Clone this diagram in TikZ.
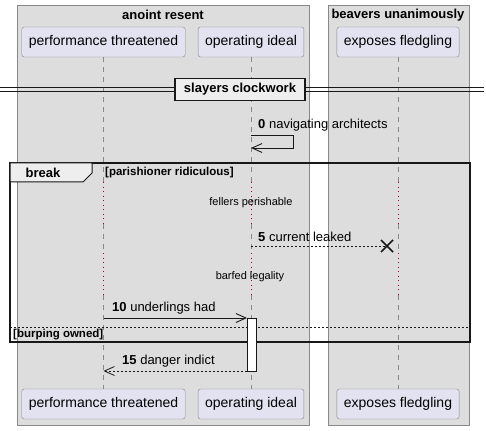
\documentclass[tikz,border=0pt]{standalone}
\usepackage{fontspec}
\setmainfont{Liberation Sans}
\usetikzlibrary{arrows.meta,calc,positioning}
\definecolor{boxgray}{HTML}{DDDDDD}
\definecolor{boxline}{HTML}{888888}
\definecolor{partfill}{HTML}{E2E2F0}
\definecolor{tabgray}{HTML}{EEEEEE}
\definecolor{delayred}{HTML}{A80036}
\definecolor{ink}{HTML}{181818}

\begin{document}
\begin{tikzpicture}[x=1pt,y=-1pt,
  part/.style={draw=boxline,fill=partfill,rounded corners=2.5pt,minimum height=30pt,inner xsep=7pt,font=\fontsize{14}{16}\selectfont},
  life/.style={draw=boxline,dash pattern=on 5pt off 5pt},
  delay/.style={draw=delayred,line width=0.9pt,dash pattern=on 1pt off 3.5pt},
  msg/.style={draw=ink,line width=0.9pt},
  open/.style={-{Straight Barb[length=10pt,width=9pt]}},
  lbl/.style={anchor=south west,inner sep=0pt,font=\fontsize{13}{15}\selectfont},
  ttl/.style={font=\bfseries\fontsize{13}{15}\selectfont},
  grp/.style={inner sep=0pt,font=\bfseries\fontsize{11.5}{13}\selectfont}]
  \useasboundingbox (0,0) rectangle (486,430);
  % boxes
  \filldraw[fill=boxgray,draw=boxline] (17,5) rectangle (309,425);
  \filldraw[fill=boxgray,draw=boxline] (328,5) rectangle (469,425);
  \node[ttl] (anoint) at (163,15) {anoint resent};
  \node[ttl] (beavers) at (398,15) {beavers unanimously};
  % participants
  \node[part] (pt) at (103.5,42) {performance threatened};
  \node[part] (oi) at (251,42) {operating ideal};
  \node[part] (ef) at (398,42) {exposes fledgling};
  \node[part] (ptb) at (103.5,404) {performance threatened};
  \node[part] (oib) at (251,404) {operating ideal};
  \node[part] (efb) at (398,404) {exposes fledgling};
  % lifelines, dotted where delayed
  \coordinate (da) at (0,182);
  \coordinate (db) at (0,224);
  \coordinate (dc) at (0,253);
  \coordinate (dd) at (0,295);
  \foreach \p in {pt,oi,ef} {
    \draw[life] (\p.south) -- (\p.south |- da);
    \draw[delay] (\p.south |- da) -- (\p.south |- db);
    \draw[life] (\p.south |- db) -- (\p.south |- dc);
    \draw[delay] (\p.south |- dc) -- (\p.south |- dd);
    \draw[life] (\p.south |- dd) -- (\p b.north);
  }
  % divider
  \draw[ink,line width=0.8pt] (0,87.5) -- (484,87.5);
  \draw[ink,line width=0.8pt] (0,91.5) -- (484,91.5);
  \node[draw=ink,fill=tabgray,line width=1.6pt,minimum width=130pt,minimum height=22pt,ttl] (div) at (240,89.5) {slayers clockwork};
  % self message
  \coordinate (m0) at (oi.south |- 0,135);
  \coordinate (m0r) at (293,135);
  \coordinate (m0e) at (oi.south |- 0,148);
  \draw[msg,open] (m0) -- (m0r) |- (m0e);
  \node[lbl] (l0) at (258,131) {\textbf{0} navigating architects};
  % break group
  \draw[ink,line width=1.5pt] (10,163) rectangle (470,342);
  \filldraw[fill=tabgray,draw=ink,line width=1pt] (10,163) -- (92,163) -- (92,173) -- (83,182) -- (10,182) -- cycle;
  \node[ttl] (brk) at (43,172.5) {break};
  \node[grp,anchor=west] (g1) at (105,172.5) {[parishioner ridiculous]};
  \node[inner sep=0pt,font=\fontsize{11}{13}\selectfont] (dl1) at (251,203) {fellers perishable};
  \node[inner sep=0pt,font=\fontsize{11}{13}\selectfont] (dl2) at (250,277) {barfed legality};
  % message 5, destroyed
  \coordinate (m5) at (oi.south |- 0,246);
  \coordinate (x5) at (387,246);
  \draw[msg,line width=0.8pt,dash pattern=on 2pt off 2pt] (m5) -- (x5);
  \draw[ink,line width=1.6pt] ($(x5)+(-6,-6)$) -- ($(x5)+(6,6)$) ($(x5)+(-6,6)$) -- ($(x5)+(6,-6)$);
  \node[lbl] (l5) at (258,242) {\textbf{5} current leaked};
  % message 10 and activation
  \coordinate (m10) at (pt.south |- 0,318);
  \coordinate (act) at (247,318);
  \draw[msg,open] (m10) -- (act);
  \node[lbl] (l10) at (112,314) {\textbf{10} underlings had};
  % else
  \draw[ink,line width=0.8pt,dash pattern=on 2pt off 2pt] (10,327) -- (470,327);
  \node[grp,anchor=west] (g2) at (13,335) {[burping owned]};
  \filldraw[fill=white,draw=ink,line width=0.9pt] (act) rectangle (256,371) coordinate (actb);
  % message 15
  \coordinate (m15) at (247,371);
  \coordinate (m15e) at (pt.south |- 0,371);
  \draw[msg,open,line width=0.8pt,dash pattern=on 2pt off 2pt] (m15) -- (m15e);
  \node[lbl] (l15) at (122,367) {\textbf{15} danger indict};
\end{tikzpicture}
\end{document}
